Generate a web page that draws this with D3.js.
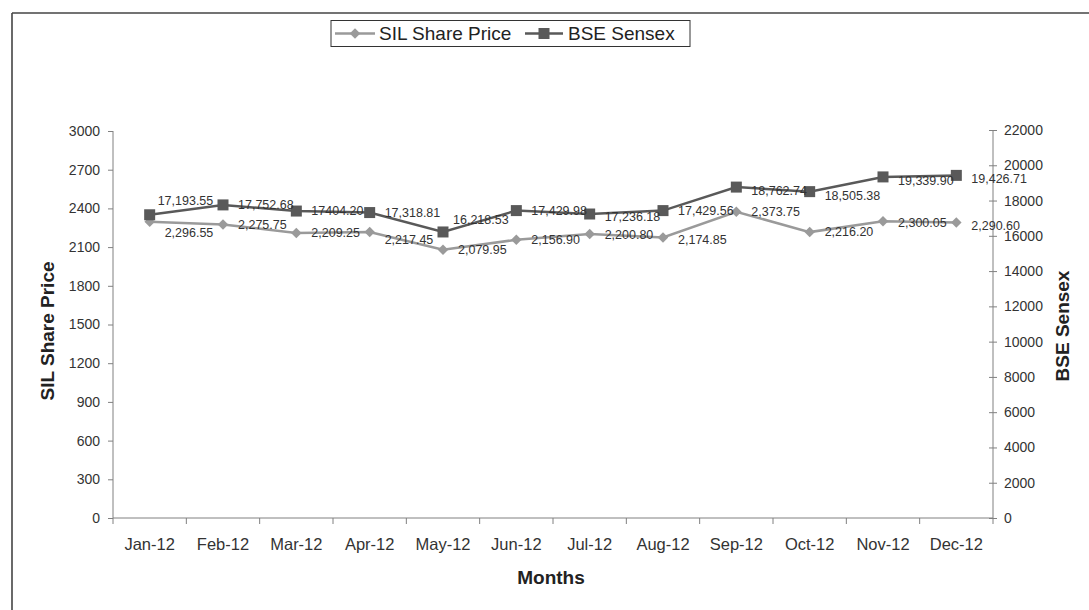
<!DOCTYPE html>
<html>
<head>
<meta charset="utf-8">
<script src="https://cdn.jsdelivr.net/npm/d3@7"></script>
<style>
  body { margin: 0; background: white; }
  svg { display: block; font-family: "Liberation Sans", Arial, sans-serif; }
  .axis path, .axis line { stroke: #808080; }
  .axis text { fill: #333; font-family: "Liberation Sans", Arial, sans-serif; }
</style>
</head>
<body>
<div id="chart"></div>
<script>
var months = ["Jan-12", "Feb-12", "Mar-12", "Apr-12", "May-12", "Jun-12", "Jul-12", "Aug-12", "Sep-12", "Oct-12", "Nov-12", "Dec-12"];
var sil_price = [2296.55, 2275.75, 2209.25, 2217.45, 2079.95, 2156.90, 2200.80, 2174.85, 2373.75, 2216.20, 2300.05, 2290.60];
var bse_sensex = [17193.55, 17752.68, 17404.20, 17318.81, 16218.53, 17429.98, 17236.18, 17429.56, 18762.74, 18505.38, 19339.90, 19426.71];
var sil_labels = ["2,296.55", "2,275.75", "2,209.25", "2,217.45", "2,079.95", "2,156.90", "2,200.80", "2,174.85", "2,373.75", "2,216.20", "2,300.05", "2,290.60"];
var bse_labels = ["17,193.55", "17,752.68", "17404.20", "17,318.81", "16,218.53", "17,429.98", "17,236.18", "17,429.56", "18,762.74", "18,505.38", "19,339.90", "19,426.71"];
var left_ticks = [0, 300, 600, 900, 1200, 1500, 1800, 2100, 2400, 2700, 3000];
var right_ticks = [0, 2000, 4000, 6000, 8000, 10000, 12000, 14000, 16000, 18000, 20000, 22000];

// label nudges (dx, dy) relative to default "right of point"
var sil_nudge = [[0, 11], [0, 0], [0, 0], [0, 8], [0, 0], [0, 0], [0, 1], [0, 2], [0, 0], [0, 0], [0, 1], [0, 3]];
var bse_nudge = [[-7, -14], [0, 0], [0, 0], [0, 0], [-5, -12], [0, 0], [0, 3], [0, 0], [0, 4], [0, 4], [0, 4], [0, 3]];

var W = 1089, H = 610;
var svg = d3.select("#chart").append("svg")
  .attr("width", W)
  .attr("height", H)
  .style("background", "white");

// frame (only top and left edges visible)
svg.append("line").attr("x1", 12).attr("y1", 13).attr("x2", W).attr("y2", 13)
  .attr("stroke", "#444").attr("stroke-width", 1.6);
svg.append("line").attr("x1", 12).attr("y1", 13).attr("x2", 12).attr("y2", H)
  .attr("stroke", "#444").attr("stroke-width", 1.6);

var xscale = d3.scaleBand().domain(months).range([113, 993]);
var yleft = d3.scaleLinear().domain([0, 3000]).range([518, 131]);
var yright = d3.scaleLinear().domain([0, 22000]).range([518, 130]);
var cx = function (i) { return xscale(months[i]) + xscale.bandwidth() / 2; };

// left axis
svg.append("g")
  .attr("class", "axis")
  .attr("transform", "translate(113,0)")
  .call(d3.axisLeft(yleft).tickValues(left_ticks).tickSize(5).tickPadding(8).tickFormat(d3.format("d")))
  .call(g => g.select(".domain").attr("d", "M0," + yleft(3000) + "V" + yleft(0)))
  .selectAll("text").style("font-size", "14px");

// right axis (ticks cross the line)
var ra = svg.append("g")
  .attr("class", "axis")
  .attr("transform", "translate(993,0)")
  .call(d3.axisRight(yright).tickValues(right_ticks).tickSize(4).tickPadding(7).tickFormat(d3.format("d")))
  .call(g => g.select(".domain").attr("d", "M0," + yright(22000) + "V" + yright(0)));
ra.selectAll(".tick line").attr("x1", -4);
ra.selectAll("text").style("font-size", "14px");

// x axis
var xa = svg.append("g")
  .attr("class", "axis")
  .attr("transform", "translate(0,518)")
  .call(d3.axisBottom(xscale).tickSize(0).tickPadding(20))
  .call(g => g.select(".domain").attr("d", "M113,0H993"));
xa.selectAll("text").style("font-size", "16.5px");
xa.selectAll(".boundary")
  .data(months.map(m => xscale(m)).concat([xscale.range()[1]]))
  .enter().append("line")
  .attr("x1", d => d).attr("x2", d => d)
  .attr("y1", 0).attr("y2", 6)
  .attr("stroke", "#808080");

// axis titles
svg.append("text")
  .attr("transform", "translate(54,331) rotate(-90)")
  .attr("text-anchor", "middle")
  .style("font-size", "19px").style("font-weight", "bold").attr("fill", "#222")
  .text("SIL Share Price");
svg.append("text")
  .attr("transform", "translate(1069,326) rotate(-90)")
  .attr("text-anchor", "middle")
  .style("font-size", "19px").style("font-weight", "bold").attr("fill", "#222")
  .text("BSE Sensex");
svg.append("text")
  .attr("x", 551).attr("y", 584)
  .attr("text-anchor", "middle")
  .style("font-size", "19px").style("font-weight", "bold").attr("fill", "#222")
  .text("Months");

var silColor = "#9a9a9a", bseColor = "#595959";
var diamond = d3.symbol().type(d3.symbolDiamond2).size(70);

// SIL series
svg.append("path")
  .datum(sil_price)
  .attr("fill", "none").attr("stroke", silColor).attr("stroke-width", 2.5)
  .attr("d", d3.line().x((d, i) => cx(i)).y(d => yleft(d)));
svg.selectAll("path.sil")
  .data(sil_price).enter().append("path")
  .attr("class", "sil")
  .attr("transform", (d, i) => "translate(" + cx(i) + "," + yleft(d) + ")")
  .attr("d", diamond)
  .attr("fill", silColor);

// BSE series
svg.append("path")
  .datum(bse_sensex)
  .attr("fill", "none").attr("stroke", bseColor).attr("stroke-width", 2.5)
  .attr("d", d3.line().x((d, i) => cx(i)).y(d => yright(d)));
svg.selectAll("rect.bse")
  .data(bse_sensex).enter().append("rect")
  .attr("class", "bse")
  .attr("x", (d, i) => cx(i) - 5.5).attr("y", d => yright(d) - 5.5)
  .attr("width", 11).attr("height", 11)
  .attr("fill", bseColor);

// data labels
svg.selectAll("text.sil-lab")
  .data(sil_price).enter().append("text")
  .attr("class", "sil-lab")
  .attr("x", (d, i) => cx(i) + 15 + sil_nudge[i][0])
  .attr("y", (d, i) => yleft(d) + sil_nudge[i][1])
  .attr("dy", "0.35em")
  .style("font-size", "12.5px").attr("fill", "#333")
  .text((d, i) => sil_labels[i]);
svg.selectAll("text.bse-lab")
  .data(bse_sensex).enter().append("text")
  .attr("class", "bse-lab")
  .attr("x", (d, i) => cx(i) + 15 + bse_nudge[i][0])
  .attr("y", (d, i) => yright(d) + bse_nudge[i][1])
  .attr("dy", "0.35em")
  .style("font-size", "12.5px").attr("fill", "#333")
  .text((d, i) => bse_labels[i]);

// legend
var lg = svg.append("g");
lg.append("rect").attr("x", 331).attr("y", 20.5).attr("width", 359).attr("height", 26)
  .attr("fill", "white").attr("stroke", "#333").attr("stroke-width", 1);
lg.append("line").attr("x1", 335).attr("x2", 375).attr("y1", 33.5).attr("y2", 33.5)
  .attr("stroke", silColor).attr("stroke-width", 2.5);
lg.append("path").attr("transform", "translate(355,33.5)").attr("d", diamond).attr("fill", silColor);
lg.append("text").attr("x", 379).attr("y", 33.5).attr("dy", "0.35em")
  .style("font-size", "19px").attr("fill", "#222").text("SIL Share Price");
lg.append("line").attr("x1", 525).attr("x2", 563).attr("y1", 33.5).attr("y2", 33.5)
  .attr("stroke", bseColor).attr("stroke-width", 2.5);
lg.append("rect").attr("x", 538.5).attr("y", 28).attr("width", 11).attr("height", 11).attr("fill", bseColor);
lg.append("text").attr("x", 568).attr("y", 33.5).attr("dy", "0.35em")
  .style("font-size", "19px").attr("fill", "#222").text("BSE Sensex");
</script>
</body>
</html>
